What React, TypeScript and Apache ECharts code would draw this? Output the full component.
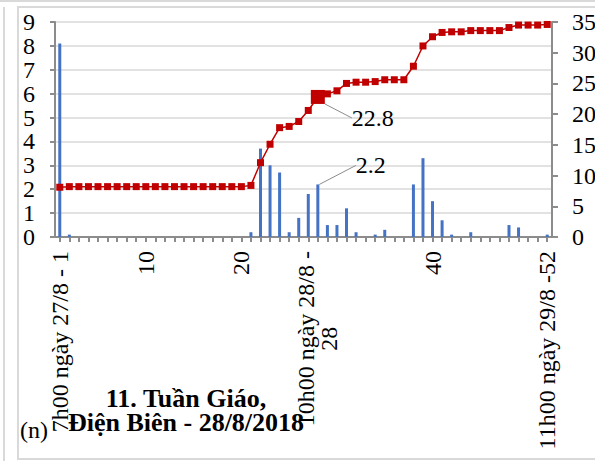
import React, { useEffect, useRef } from "react";
import * as echarts from "echarts";

const FONT = "'Liberation Serif', 'Times New Roman', serif";

// 52 hourly steps; only some positions carry a printed label
const categories: string[] = [
  "7h00 ngày 27/8 - 1", "2", "3", "4", "5", "6", "7", "8", "9", "10",
  "11", "12", "13", "14", "15", "16", "17", "18", "19", "20",
  "21", "22", "23", "24", "25", "26", "27", "10h00 ngày 28/8 -\n28", "29", "30",
  "31", "32", "33", "34", "35", "36", "37", "38", "39", "40",
  "41", "42", "43", "44", "45", "46", "47", "48", "49", "50",
  "51", "11h00 ngày 29/8 -52",
];
const shownLabelIndexes: number[] = [0, 9, 19, 27, 39, 51];

// hourly rainfall (mm), left axis
const hourlyRain: number[] = [
  8.1, 0.1, 0, 0, 0, 0, 0, 0, 0, 0,
  0, 0, 0, 0, 0, 0, 0, 0, 0, 0,
  0.2, 3.7, 3.0, 2.7, 0.2, 0.8, 1.8, 2.2, 0.5, 0.5,
  1.2, 0.2, 0, 0.1, 0.3, 0, 0, 2.2, 3.3, 1.5,
  0.7, 0.1, 0, 0.2, 0, 0, 0, 0.5, 0.4, 0,
  0, 0.1,
];

// accumulated rainfall (mm), right axis
const accumulatedRain: number[] = [
  8.1, 8.2, 8.2, 8.2, 8.2, 8.2, 8.2, 8.2, 8.2, 8.2,
  8.2, 8.2, 8.2, 8.2, 8.2, 8.2, 8.2, 8.2, 8.2, 8.2,
  8.4, 12.1, 15.1, 17.8, 18.0, 18.8, 20.6, 22.8, 23.3, 23.8,
  25.0, 25.2, 25.2, 25.3, 25.6, 25.6, 25.6, 27.8, 31.1, 32.6,
  33.3, 33.4, 33.4, 33.6, 33.6, 33.6, 33.6, 34.1, 34.5, 34.5,
  34.5, 34.6,
];

const leftTicks = { min: 0, max: 9, interval: 1 };
const rightTicks = { min: 0, max: 35, interval: 5 };
const highlightIndex = 27;

const titleText = "11. Tuần Giáo,\nĐiện Biên - 28/8/2018";
const unitText = "(n)";

export default function App() {
  const ref = useRef<HTMLDivElement>(null);

  useEffect(() => {
    if (!ref.current) return;
    const chart = echarts.init(ref.current, null, { renderer: "svg" });
    const axisGrey = "#8c8c8c";

    const barData = hourlyRain.map((v, i) =>
      i === highlightIndex
        ? {
            value: v,
            label: {
              show: true,
              position: "top",
              formatter: String(v),
              fontSize: 24,
              fontFamily: FONT,
              color: "#000",
            },
            labelLine: { show: true, lineStyle: { color: "#8c8c8c", width: 1 } },
          }
        : v
    );
    const lineData = accumulatedRain.map((v, i) =>
      i === highlightIndex
        ? {
            value: v,
            symbolSize: 14,
            label: {
              show: true,
              position: "right",
              formatter: String(v),
              fontSize: 24,
              fontFamily: FONT,
              color: "#000",
            },
            labelLine: { show: true, lineStyle: { color: "#8c8c8c", width: 1 } },
          }
        : v
    );

    const yLabel = {
      margin: 20,
      fontSize: 24,
      fontFamily: FONT,
      color: "#000",
      showMinLabel: true,
      showMaxLabel: true,
      hideOverlap: false,
    };

    chart.setOption({
      animation: false,
      textStyle: { fontFamily: FONT },
      grid: {
        left: 55,
        right: 43,
        top: 22,
        bottom: 224,
        containLabel: false,
        outerBoundsMode: "none",
      },
      xAxis: {
        type: "category",
        data: categories,
        boundaryGap: true,
        axisLine: { show: true, lineStyle: { color: axisGrey, width: 2 } },
        axisTick: {
          show: true,
          interval: 0,
          alignWithLabel: true,
          length: 5,
          lineStyle: { color: axisGrey, width: 2 },
        },
        axisLabel: {
          interval: (idx: number) => shownLabelIndexes.includes(idx),
          rotate: 90,
          margin: 14,
          fontSize: 24,
          fontFamily: FONT,
          color: "#000",
          lineHeight: 23,
          hideOverlap: false,
          formatter: (value: string) => {
            const parts = value.split("\n");
            if (parts.length > 1) return parts[0] + "\n{c|" + parts[1] + "}";
            return value;
          },
          rich: {
            c: { align: "center", fontSize: 24, fontFamily: FONT, color: "#000", lineHeight: 23 },
          },
        },
        splitLine: { show: false },
      },
      yAxis: [
        {
          type: "value",
          position: "left",
          min: leftTicks.min,
          max: leftTicks.max,
          interval: leftTicks.interval,
          axisLine: { show: true, lineStyle: { color: axisGrey, width: 2 } },
          axisTick: { show: true, length: 5, lineStyle: { color: axisGrey, width: 2 } },
          axisLabel: yLabel,
          splitLine: { show: true, lineStyle: { color: "#d9d9d9", width: 1.5 } },
        },
        {
          type: "value",
          position: "right",
          min: rightTicks.min,
          max: rightTicks.max,
          interval: rightTicks.interval,
          axisLine: { show: true, lineStyle: { color: axisGrey, width: 2 } },
          axisTick: { show: true, length: 6, lineStyle: { color: axisGrey, width: 2 } },
          axisLabel: yLabel,
          splitLine: { show: false },
        },
      ],
      series: [
        {
          type: "bar",
          yAxisIndex: 0,
          data: barData,
          barWidth: 3,
          itemStyle: { color: "#4472C4" },
          labelLayout: (p: any) => (p.dataIndex === highlightIndex ? { dx: 53, dy: -2 } : {}),
          z: 2,
        },
        {
          type: "line",
          yAxisIndex: 1,
          data: lineData,
          symbol: "rect",
          symbolSize: 7,
          showAllSymbol: true,
          lineStyle: { color: "#C00000", width: 1.5 },
          itemStyle: { color: "#C00000" },
          labelLayout: (p: any) => (p.dataIndex === highlightIndex ? { dx: 22, dy: 21 } : {}),
          z: 3,
        },
      ],
      graphic: [
        { type: "line", shape: { x1: 0, y1: 1, x2: 595, y2: 1 }, style: { stroke: "#d9d9d9", lineWidth: 2 } },
        { type: "line", shape: { x1: 4, y1: 7, x2: 4, y2: 461 }, style: { stroke: "#d9d9d9", lineWidth: 2 } },
        {
          type: "rect",
          shape: { x: 18, y: 7, width: 620, height: 452 },
          style: { fill: "none", stroke: "#d9d9d9", lineWidth: 2 },
          z: -1,
        },
        {
          type: "text",
          x: 186,
          y: 386,
          style: {
            text: titleText,
            font: "bold 26px " + FONT,
            textAlign: "center",
            textVerticalAlign: "top",
            lineHeight: 24,
            fill: "#000",
          },
          z: 10,
        },
        {
          type: "text",
          x: 20,
          y: 430,
          style: {
            text: unitText,
            font: "24px " + FONT,
            textAlign: "left",
            textVerticalAlign: "middle",
            fill: "#000",
          },
          z: 10,
        },
      ],
    });
    return () => chart.dispose();
  }, []);

  return <div ref={ref} style={{ width: 595, height: 461, position: "absolute", left: 0, top: 0 }} />;
}
